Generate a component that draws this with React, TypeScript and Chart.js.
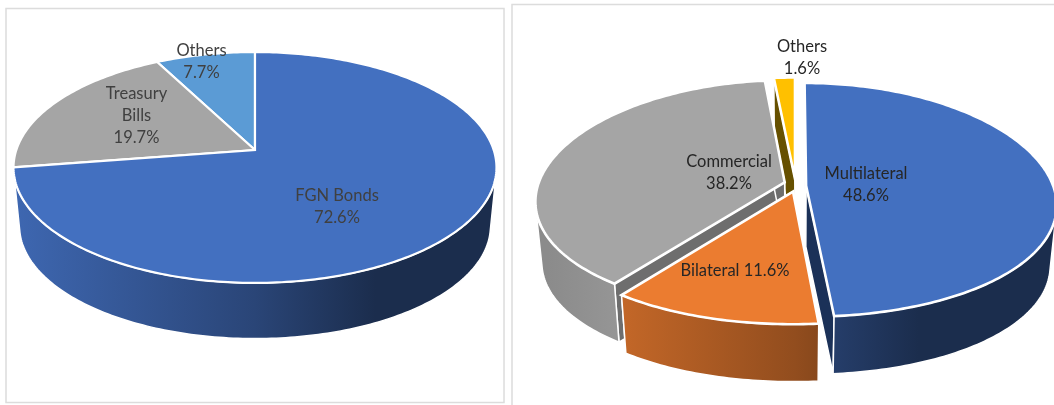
import React, { useEffect, useRef } from "react";
import { Chart, registerables } from "chart.js";

Chart.register(...registerables);

// Composition of domestic debt
const domesticCategories = ["FGN Bonds", "Treasury Bills", "Others"];
const domesticShares = [72.6, 19.7, 7.7];
const domesticLabelLines = [["FGN Bonds"], ["Treasury", "Bills"], ["Others"]];

// Composition of external debt
const externalCategories = ["Multilateral", "Bilateral", "Commercial", "Others"];
const externalShares = [48.6, 11.6, 38.2, 1.6];
const externalLabelLines = [["Multilateral"], ["Bilateral"], ["Commercial"], ["Others"]];

type Rgb = [number, number, number];
type Stop = [number, number];

const BLUE: Rgb = [67, 112, 192];
const ORANGE: Rgb = [235, 124, 48];
const GRAY: Rgb = [165, 165, 165];
const YELLOW: Rgb = [255, 192, 0];
const SKY: Rgb = [91, 155, 213];

// Brightness of the outer wall, from the left of the pie to its right
const WALL_STOPS: Stop[] = [[0, 0.92], [0.5, 0.62], [0.75, 0.4], [1, 0.4]];
const GRAY_WALL_STOPS: Stop[] = [[0, 0.84], [0.15, 0.91], [1, 0.7]];

interface SliceStyle {
  color: Rgb;
  cut: string;
  wall: Stop[];
  explode: [number, number];
  labelAt: [number, number];
  inline?: boolean;
}

interface PieView {
  frame: [number, number, number, number];
  cx: number;
  cy: number;
  rx: number;
  ry: number;
  tiltX: number;
  tiltY: number;
  shrink: number;
  depth: number;
  rimWidth: number;
  order: number[];
  textColor: string;
  lines: string[][];
  slices: SliceStyle[];
}

const domesticView: PieView = {
  frame: [6, 8.5, 498, 394],
  cx: 255,
  cy: 150,
  rx: 238.7,
  ry: 112.8,
  tiltX: 0.1515,
  tiltY: 0.1515,
  shrink: 0.975,
  depth: 59,
  rimWidth: 2.2,
  order: [2, 1, 0],
  textColor: "#404040",
  lines: domesticLabelLines,
  slices: [
    { color: BLUE, cut: "#1a2d52", wall: WALL_STOPS, explode: [0, 0], labelAt: [337, 196] },
    { color: GRAY, cut: "#6e6e6e", wall: GRAY_WALL_STOPS, explode: [0, 0], labelAt: [136.5, 94] },
    { color: SKY, cut: "#2f5f8f", wall: WALL_STOPS, explode: [0, 0], labelAt: [201.5, 51] },
  ],
};

const externalView: PieView = {
  frame: [512, 4.5, 620, 460],
  cx: 795,
  cy: 180,
  rx: 245,
  ry: 113.8,
  tiltX: 0.16,
  tiltY: 0.12,
  shrink: 0.975,
  depth: 61,
  rimWidth: 2.6,
  order: [3, 2, 0, 1],
  textColor: "#262626",
  lines: externalLabelLines,
  slices: [
    { color: BLUE, cut: "#1b3158", wall: WALL_STOPS, explode: [0.045, -0.05], labelAt: [866, 174] },
    { color: ORANGE, cut: "#7b4016", wall: WALL_STOPS, explode: [-0.008, -0.1], labelAt: [735, 271], inline: true },
    { color: GRAY, cut: "#6e6e6e", wall: GRAY_WALL_STOPS, explode: [-0.042, -0.02], labelAt: [729, 162] },
    { color: YELLOW, cut: "#665000", wall: WALL_STOPS, explode: [0, 0.01], labelAt: [802, 47] },
  ],
};

const shade = (c: Rgb, k: number) =>
  `rgb(${Math.round(c[0] * k)},${Math.round(c[1] * k)},${Math.round(c[2] * k)})`;

// Plugin that lays the pie on a tilted plane, using the angles computed by the arc controller.
function tiltedPie(view: PieView, originX: number) {
  return {
    id: "tiltedPie",
    beforeDatasetsDraw(chart: Chart) {
      const ctx = chart.ctx;
      const meta = chart.getDatasetMeta(0);
      const { cx, cy, rx, ry, tiltX, tiltY, shrink, depth } = view;

      const project = (u: number, v: number, lower: boolean): [number, number] => {
        const k = lower ? shrink : 1;
        return [
          cx + (rx * k * u) / (1 + tiltX * v),
          cy + (lower ? depth : 0) - (ry * k * v) / (1 + tiltY * v),
        ];
      };

      ctx.save();
      ctx.translate(-originX, 0);

      const [fx, fy, fw, fh] = view.frame;
      ctx.strokeStyle = "#dcdcdc";
      ctx.lineWidth = 1.5;
      ctx.strokeRect(fx, fy, fw, fh);

      ctx.lineJoin = "miter";
      ctx.strokeStyle = "#ffffff";

      const outline = (points: [number, number][], fill: string | CanvasGradient, width: number) => {
        ctx.beginPath();
        points.forEach((p, i) => (i ? ctx.lineTo(p[0], p[1]) : ctx.moveTo(p[0], p[1])));
        ctx.closePath();
        ctx.fillStyle = fill;
        ctx.fill();
        ctx.lineWidth = width;
        ctx.stroke();
      };

      for (const index of view.order) {
        const arc = meta.data[index] as unknown as { startAngle: number; endAngle: number };
        const style = view.slices[index];
        const [ex, ey] = style.explode;
        const steps = Math.max(4, Math.ceil(((arc.endAngle - arc.startAngle) * 180) / Math.PI));
        const rim: [number, number][] = [];
        for (let i = 0; i <= steps; i++) {
          const a = arc.startAngle + ((arc.endAngle - arc.startAngle) * i) / steps;
          rim.push([Math.cos(a) + ex, -Math.sin(a) + ey]);
        }

        // Flat cut faces running in from the rim to the apex
        for (const end of [rim[0], rim[rim.length - 1]]) {
          outline(
            [
              project(ex, ey, false),
              project(end[0], end[1], false),
              project(end[0], end[1], true),
              project(ex, ey, true),
            ],
            style.cut,
            1.5,
          );
        }

        // Curved outer wall: only the run of segments that faces the viewer
        let first = -1;
        let last = -1;
        for (let i = 0; i < steps; i++) {
          const a = project(rim[i][0], rim[i][1], false);
          const b = project(rim[i + 1][0], rim[i + 1][1], false);
          const c = project(rim[i + 1][0], rim[i + 1][1], true);
          const area = (b[0] - a[0]) * (c[1] - a[1]) - (b[1] - a[1]) * (c[0] - a[0]);
          if (area < 0) {
            if (first < 0) first = i;
            last = i + 1;
          }
        }
        if (first >= 0) {
          const left = cx - rx * 1.01;
          const right = cx + rx * 1.01;
          const gradient = ctx.createLinearGradient(left, 0, right, 0);
          for (const [at, k] of style.wall) gradient.addColorStop(at, shade(style.color, k));
          const upper = rim.slice(first, last + 1).map((p) => project(p[0], p[1], false));
          const lower = rim.slice(first, last + 1).map((p) => project(p[0], p[1], true)).reverse();
          outline([...upper, ...lower], gradient, 1.5);
        }

        // Top face
        const top = [project(ex, ey, false), ...rim.map((p) => project(p[0], p[1], false))];
        outline(top, shade(style.color, 1), view.rimWidth);
      }

      // Data labels
      ctx.font = '16.5px Lato, "Open Sans", sans-serif';
      ctx.textAlign = "center";
      ctx.textBaseline = "middle";
      ctx.fillStyle = view.textColor;
      const shares = chart.data.datasets[0].data as number[];
      view.slices.forEach((style, i) => {
        const pct = `${shares[i].toFixed(1)}%`;
        const rows = style.inline ? [`${view.lines[i].join(" ")} ${pct}`] : [...view.lines[i], pct];
        rows.forEach((row, r) => ctx.fillText(row, style.labelAt[0], style.labelAt[1] + r * 22));
      });

      ctx.restore();
      return false;
    },
  };
}

function PieCanvas(props: {
  categories: string[];
  shares: number[];
  view: PieView;
  left: number;
  width: number;
}) {
  const ref = useRef<HTMLCanvasElement>(null);
  useEffect(() => {
    const chart = new Chart(ref.current as HTMLCanvasElement, {
      type: "pie",
      data: {
        labels: props.categories,
        datasets: [{ data: props.shares, backgroundColor: props.view.slices.map((s) => shade(s.color, 1)) }],
      },
      options: {
        animation: false,
        responsive: false,
        plugins: { legend: { display: false }, tooltip: { enabled: false } },
      },
      plugins: [tiltedPie(props.view, props.left)],
    });
    return () => chart.destroy();
  }, []);
  return (
    <canvas
      ref={ref}
      width={props.width}
      height={405}
      style={{ position: "absolute", left: props.left, top: 0, width: props.width, height: 405 }}
    />
  );
}

export default function App() {
  return (
    <div style={{ position: "absolute", left: 0, top: 0, width: 1054, height: 405, overflow: "hidden", background: "#fff" }}>
      <PieCanvas categories={domesticCategories} shares={domesticShares} view={domesticView} left={0} width={508} />
      <PieCanvas categories={externalCategories} shares={externalShares} view={externalView} left={508} width={546} />
    </div>
  );
}
